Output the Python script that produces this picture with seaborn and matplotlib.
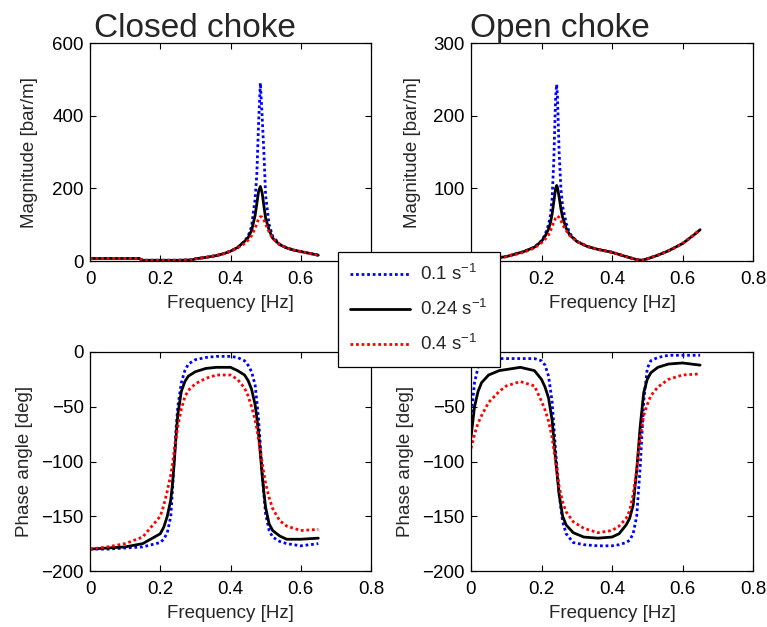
import matplotlib
matplotlib.use("Agg")
import matplotlib.pyplot as plt
import seaborn as sns

# Frequency response of the pipeline pressure for three damping rates
rates = ["0.1", "0.24", "0.4"]

# --- Closed choke, magnitude [bar/m] ---
f_mag_closed = [0, 0.05, 0.10, 0.14, 0.15, 0.20, 0.25, 0.29, 0.30, 0.33, 0.36, 0.38,
                0.40, 0.42, 0.44, 0.45, 0.46, 0.47, 0.475, 0.48, 0.485, 0.49, 0.495, 0.50,
                0.51, 0.52, 0.54, 0.56, 0.58, 0.60, 0.62, 0.65]
mag_closed_01 = [7, 7, 7, 7, 2, 2, 2, 3, 6, 10, 15, 20, 27, 37, 55, 68, 95, 170, 240, 380,
                 490, 400, 300, 180, 100, 68, 46, 36, 30, 26, 22, 16]
mag_closed_024 = [7, 7, 7, 7, 2, 2, 2, 3, 6, 10, 15, 20, 27, 37, 54, 64, 84, 125, 158, 192,
                  205, 188, 152, 118, 85, 63, 45, 36, 30, 26, 22, 16]
mag_closed_04 = [7, 7, 7, 7, 2, 2, 2, 3, 6, 10, 15, 20, 27, 36, 48, 57, 70, 90, 104, 116,
                 122, 121, 113, 101, 80, 62, 45, 36, 30, 26, 22, 16]

# --- Open choke, magnitude [bar/m] ---
f_mag_open = [0, 0.05, 0.10, 0.15, 0.18, 0.20, 0.21, 0.22, 0.225, 0.23, 0.235, 0.24,
              0.243, 0.245, 0.25, 0.255, 0.26, 0.27, 0.28, 0.30, 0.33, 0.36, 0.40, 0.44,
              0.47, 0.485, 0.50, 0.53, 0.56, 0.60, 0.63, 0.65]
mag_open_01 = [2, 3, 6, 13, 19, 28, 36, 50, 62, 85, 140, 225, 243, 230, 150, 100,
               75, 52, 38, 27, 20, 16, 12, 6, 2, 1, 3, 8, 14, 24, 35, 43]
mag_open_024 = [2, 3, 6, 13, 19, 27, 34, 44, 52, 64, 82, 100, 104, 102, 88, 72,
                60, 45, 36, 27, 20, 16, 12, 6, 2, 1, 3, 8, 14, 24, 35, 43]
mag_open_04 = [2, 3, 6, 12, 18, 25, 30, 36, 41, 47, 54, 59, 61, 62, 60, 56,
               50, 42, 35, 27, 20, 16, 12, 6, 2, 1, 3, 8, 14, 24, 35, 43]

# --- Closed choke, phase angle [deg] ---
f_ph_closed = [0, 0.05, 0.10, 0.15, 0.20, 0.21, 0.22, 0.23, 0.235, 0.24, 0.245, 0.25,
               0.26, 0.27, 0.28, 0.30, 0.33, 0.36, 0.40, 0.42, 0.44, 0.45, 0.46, 0.47,
               0.475, 0.48, 0.485, 0.49, 0.495, 0.50, 0.51, 0.52, 0.54, 0.56, 0.60, 0.65]
ph_closed_01 = [-180, -180, -179, -178, -174, -171, -165, -150, -125, -95, -70, -50,
                -28, -17, -11, -7, -5, -4, -4, -5, -8, -12, -18, -30,
                -45, -62, -85, -110, -130, -148, -163, -169, -173, -175, -177, -175]
ph_closed_024 = [-180, -179, -178, -175, -166, -160, -150, -135, -120, -100, -77, -57,
                 -36, -27, -22, -18, -15, -14, -14, -17, -21, -26, -34, -48,
                 -60, -75, -93, -112, -128, -142, -157, -163, -168, -171, -171, -170]
ph_closed_04 = [-180, -178, -175, -169, -150, -140, -127, -112, -102, -90, -79, -68,
                -52, -41, -35, -29, -24, -21, -21, -25, -33, -40, -50, -62,
                -70, -80, -90, -101, -111, -120, -133, -143, -154, -159, -163, -162]

# --- Open choke, phase angle [deg] ---
f_ph_open = [0, 0.01, 0.02, 0.03, 0.05, 0.08, 0.10, 0.14, 0.18, 0.20, 0.21, 0.22,
             0.23, 0.24, 0.25, 0.26, 0.27, 0.29, 0.32, 0.36, 0.40, 0.42, 0.44, 0.45,
             0.46, 0.47, 0.48, 0.49, 0.50, 0.51, 0.53, 0.56, 0.60, 0.65]
ph_open_01 = [-60, -28, -14, -8, -6, -6, -6, -6, -6, -8, -12, -22,
              -45, -90, -130, -155, -166, -174, -176, -177, -177, -176, -174, -172,
              -166, -150, -105, -45, -15, -8, -5, -3, -3, -3]
ph_open_024 = [-78, -50, -36, -28, -21, -17, -16, -14, -17, -25, -32, -42,
               -62, -98, -130, -150, -158, -165, -169, -170, -169, -166, -158, -152,
               -140, -108, -68, -37, -25, -19, -14, -11, -10, -12]
ph_open_04 = [-88, -75, -65, -58, -46, -36, -31, -27, -31, -45, -53, -63,
              -78, -100, -123, -137, -146, -155, -161, -165, -163, -159, -152, -145,
              -130, -108, -78, -58, -48, -40, -32, -25, -21, -20]

x_ticks = [0, 0.2, 0.4, 0.6, 0.8]
x_tick_labels = ["0", "0.2", "0.4", "0.6", "0.8"]

sns.set_theme(style="white")
plt.rcParams["font.family"] = ["Liberation Sans", "DejaVu Sans"]
plt.rcParams["mathtext.fontset"] = "custom"
plt.rcParams["mathtext.rm"] = "Liberation Sans"
plt.rcParams["mathtext.it"] = "Liberation Sans:italic"

FS = 13.5
W, H = 767, 627
fig = plt.figure(figsize=(W / 100, H / 100), dpi=100)
fig.patch.set_facecolor("white")


def make_axes(x0, y0, x1, y1):
    return fig.add_axes([x0 / W, 1 - y1 / H, (x1 - x0) / W, (y1 - y0) / H])


ax_mc = make_axes(90, 43, 371, 261)
ax_mo = make_axes(471, 43, 753, 261)
ax_pc = make_axes(90, 352, 371, 571)
ax_po = make_axes(471, 352, 753, 571)

styles = [
    dict(color=(0, 0, 1), linestyle=(0, (1.0, 1.0)), linewidth=2.0),
    dict(color="black", linestyle="-", linewidth=2.0),
    dict(color=(1, 0, 0), linestyle=(0, (1.0, 1.0)), linewidth=2.0),
]

panels = [
    (ax_mc, f_mag_closed, [mag_closed_01, mag_closed_024, mag_closed_04]),
    (ax_mo, f_mag_open, [mag_open_01, mag_open_024, mag_open_04]),
    (ax_pc, f_ph_closed, [ph_closed_01, ph_closed_024, ph_closed_04]),
    (ax_po, f_ph_open, [ph_open_01, ph_open_024, ph_open_04]),
]

for ax, freq, series in panels:
    for vals, st, r in zip(series, styles, rates):
        sns.lineplot(x=freq, y=vals, ax=ax, label=r + " s$^{\\mathregular{-1}}$",
                     legend=False, **st)
    ax.set_xlim(0, 0.8)
    ax.set_xticks(x_ticks)
    ax.set_xticklabels(x_tick_labels)
    ax.tick_params(direction="in", top=True, right=True, bottom=True, left=True,
                   length=4, width=0.8, colors="black", labelsize=FS)
    ax.tick_params(axis="x", pad=7.5)
    ax.tick_params(axis="y", pad=4.5)
    for sp in ax.spines.values():
        sp.set_color("black")
        sp.set_linewidth(0.9)
    ax.set_xlabel("Frequency [Hz]", fontsize=FS, labelpad=4.5)
    ax.grid(False)

ax_mc.set_ylim(0, 600)
ax_mc.set_yticks([0, 200, 400, 600])
ax_mo.set_ylim(0, 300)
ax_mo.set_yticks([0, 100, 200, 300])
for ax in (ax_pc, ax_po):
    ax.set_ylim(-200, 0)
    ax.set_yticks([-200, -150, -100, -50, 0])

ax_mc.set_ylabel("Magnitude [bar/m]", fontsize=FS)
ax_mo.set_ylabel("Magnitude [bar/m]", fontsize=FS)
ax_pc.set_ylabel("Phase angle [deg]", fontsize=FS)
ax_po.set_ylabel("Phase angle [deg]", fontsize=FS)
ax_mc.yaxis.set_label_coords(-0.186, 0.5)
ax_mo.yaxis.set_label_coords(-0.178, 0.5)
ax_pc.yaxis.set_label_coords(-0.202, 0.5)
ax_po.yaxis.set_label_coords(-0.202, 0.5)

ax_mc.set_title("Closed choke", loc="left", fontsize=24, pad=4, x=0.015)
ax_mo.set_title("Open choke", loc="left", fontsize=24, pad=4, x=-0.005)

handles, labels = ax_mc.get_legend_handles_labels()
leg = fig.legend(handles, labels, loc="upper left",
                 bbox_to_anchor=(338 / W, 1 - 252 / H), bbox_transform=fig.transFigure,
                 frameon=True, fancybox=False, framealpha=1, edgecolor="black",
                 fontsize=FS, handlelength=3.2, labelspacing=0.8, borderpad=0.65,
                 handletextpad=0.55, borderaxespad=0)
leg.get_frame().set_linewidth(0.9)
leg.set_zorder(10)

fig.savefig("out.png", dpi=100, facecolor="white")
